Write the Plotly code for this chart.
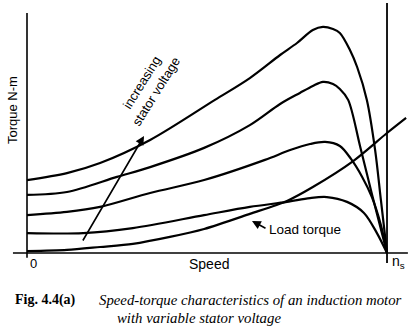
import plotly.graph_objects as go

# Speed as a fraction of synchronous speed n_s, torque in arbitrary N-m units
speed_v1 = [0.0, 0.111, 0.203, 0.342, 0.522, 0.619, 0.703, 0.75, 0.794, 0.822, 0.85, 0.869, 0.897, 0.917, 0.944, 0.967, 0.983, 1.0]
torque_v1 = [30.4, 33.3, 37.5, 47.1, 63.8, 72.9, 82.5, 87.5, 92.9, 94.2, 93.3, 91.7, 84.6, 77.5, 63.8, 42.9, 22.1, 0.0]

speed_v2 = [0.0, 0.111, 0.25, 0.342, 0.492, 0.619, 0.703, 0.758, 0.794, 0.822, 0.85, 0.869, 0.892, 0.925, 0.958, 1.0]
torque_v2 = [24.2, 25.4, 31.7, 35.8, 43.8, 53.3, 62.1, 66.7, 69.6, 71.3, 70.4, 68.3, 63.8, 44.6, 24.6, 0.0]

speed_v3 = [0.0, 0.111, 0.203, 0.342, 0.492, 0.661, 0.731, 0.786, 0.828, 0.869, 0.9, 0.931, 0.958, 0.983, 1.0]
torque_v3 = [15.8, 17.1, 19.2, 25.0, 30.4, 38.8, 42.9, 45.4, 46.3, 44.6, 39.2, 31.7, 23.3, 11.7, 0.0]

speed_v4 = [0.0, 0.156, 0.294, 0.492, 0.619, 0.722, 0.786, 0.833, 0.889, 0.936, 0.972, 1.0]
torque_v4 = [8.3, 8.3, 10.4, 15.8, 19.2, 21.3, 22.9, 23.3, 21.3, 16.7, 8.3, 0.0]

speed_load = [0.0, 0.111, 0.203, 0.294, 0.397, 0.492, 0.619, 0.722, 0.794, 0.906, 1.0, 1.053]
torque_load = [0.8, 1.3, 2.5, 3.8, 6.7, 10.0, 16.3, 21.7, 27.5, 38.3, 50.0, 56.3]

motor_curves = [
    (speed_v1, torque_v1),
    (speed_v2, torque_v2),
    (speed_v3, torque_v3),
    (speed_v4, torque_v4),
]

X_RANGE = [-0.075, 1.0583]
Y_RANGE = [-7.083, 105.417]

fig = go.Figure()

for s, t in motor_curves:
    fig.add_trace(go.Scatter(
        x=s, y=t, mode="lines",
        line=dict(color="black", width=2.2, shape="spline", smoothing=0.9),
        hoverinfo="skip", showlegend=False,
    ))

fig.add_trace(go.Scatter(
    x=speed_load, y=torque_load, mode="lines",
    line=dict(color="black", width=2.2, shape="spline", smoothing=0.8),
    hoverinfo="skip", showlegend=False,
))

# Axes drawn as plain lines: speed axis, torque axis and the n_s marker
fig.add_shape(type="line", x0=-0.039, x1=1.058, y0=0, y1=0,
              line=dict(color="black", width=1.6))
fig.add_shape(type="line", x0=0, x1=0, y0=-2.0, y1=100,
              line=dict(color="black", width=1.6))
fig.add_shape(type="line", x0=1.0, x1=1.0, y0=-4.2, y1=104.2,
              line=dict(color="black", width=1.8))

sans = "Liberation Sans, Arial, sans-serif"
serif = "Liberation Serif, Times New Roman, serif"

W, H_PLOT = 408, 270


def pxx(x):
    return x / W


def pxy(y):
    return 1 - y / H_PLOT


def label(text, x, y, size=12, angle=0, family=sans, xanchor="center", **kw):
    fig.add_annotation(
        text=text, x=pxx(x), y=pxy(y), xref="paper", yref="paper",
        showarrow=False, textangle=angle, xanchor=xanchor, yanchor="middle",
        font=dict(family=family, size=size, color="black"), **kw,
    )


def arrow(head, tail):
    fig.add_annotation(
        x=pxx(head[0]), y=pxy(head[1]), xref="paper", yref="paper",
        ax=tail[0] - head[0], ay=tail[1] - head[1],
        axref="pixel", ayref="pixel",
        text="", showarrow=True, arrowhead=2, arrowsize=1.1, arrowwidth=1.6,
        arrowcolor="black",
    )


label("Torque N-m", 12, 110, size=13, angle=-90)
label("Speed", 209, 264, size=14)
label("0", 33, 263, size=13)
label("n<sub>s</sub>", 398, 262, size=14)
label("increasing<br>stator voltage", 149, 87, size=13, angle=-58)
label("Load torque", 305, 229, size=13.5)

# Direction of increasing stator voltage
arrow((144, 136), (82, 242))
# Pointer to the load torque curve
arrow((252, 221), (267, 229))

# Caption
label("<b>Fig. 4.4(a)</b>", 13, 300, size=14, family=serif, xanchor="left")
label("<i>Speed-torque characteristics of an induction motor</i>", 97, 300,
      size=14.8, family=serif, xanchor="left")
label("<i>with variable stator voltage</i>", 115, 318,
      size=14.8, family=serif, xanchor="left")

fig.update_layout(
    width=408, height=333,
    margin=dict(l=0, r=0, t=0, b=63, pad=0),
    paper_bgcolor="white", plot_bgcolor="white",
    xaxis=dict(range=X_RANGE, visible=False, fixedrange=True),
    yaxis=dict(range=Y_RANGE, visible=False, fixedrange=True),
    showlegend=False,
)

fig.write_html("out.html", config={"displayModeBar": False})
